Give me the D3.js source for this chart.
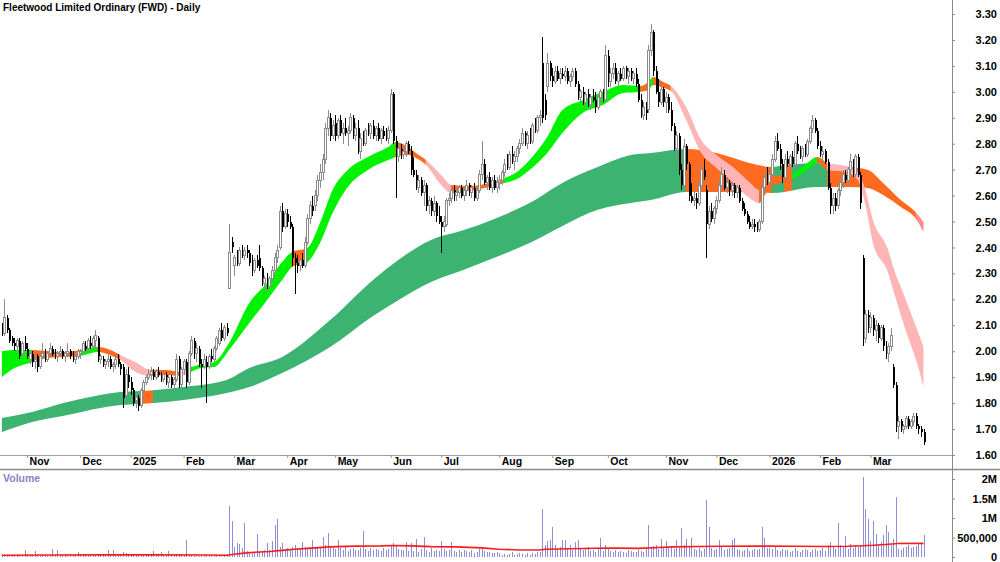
<!DOCTYPE html>
<html lang="en">
<head>
<meta charset="utf-8"/>
<title>Fleetwood Limited Ordinary (FWD) - Daily</title>
<script src="https://d3js.org/d3.v7.min.js"></script>
<style>
  html, body { margin: 0; padding: 0; background: #fff; }
  svg { display: block; font-family: "Liberation Sans", Arial, sans-serif; }
</style>
</head>
<body>
<svg id="chart" width="1000" height="562"></svg>
<script>
// ---- data: one row per trading day, [open, high, low, close] in cents + volume in thousands ----
const oct24 = [[209,211,206,207,60],[207,220,206,213,40],[213,214,207,208,35],[208,209,203,204,50],[205,206,202,203,45],[203,205,200,202,30],[202,205,200,204,40],[204,205,197,198,55],[199,204,198,203,60],[203,206,200,201,190]];
const nov24 = [[201,203,197,198,70],[197,200,195,199,50],[199,200,194,196,45],[196,198,193,197,160],[198,199,192,194,80],[194,199,193,198,40],[198,203,197,199,50],[199,201,196,197,60],[197,200,196,199,35],[199,203,198,201,50],[201,202,198,199,200],[199,201,197,198,45],[198,200,196,199,170],[199,202,198,200,60],[200,201,197,198,40],[198,200,196,199,55],[199,203,198,200,30],[200,201,197,198,45],[198,200,196,197,50],[197,199,195,198,60],[198,201,197,200,120]];
const dec24 = [[199,201,197,200,60],[200,204,199,203,45],[202,204,200,201,70],[201,205,200,204,50],[203,206,201,202,40],[202,206,201,205,30],[204,208,201,206,55],[205,206,196,197,60],[197,199,195,198,45],[197,198,194,195,50],[195,197,193,196,65],[196,199,194,197,190],[197,198,193,194,60],[194,196,192,195,190],[195,198,193,197,50],[197,199,194,195,40],[195,196,191,193,45],[194,195,178,182,120],[183,193,182,191,90],[191,194,186,188,60]];
const jan25 = [[188,190,183,185,50],[185,186,179,180,70],[181,184,178,182,45],[182,183,177,179,60],[179,186,178,185,40],[185,189,184,188,55],[188,191,187,190,60],[190,193,189,191,50],[191,194,189,192,40],[192,193,189,190,150],[190,193,189,192,45],[192,194,190,191,55],[191,192,188,189,130],[189,192,188,191,40],[191,192,187,188,60],[188,191,186,190,150],[190,191,186,187,55],[187,190,185,189,45],[189,199,188,197,80],[197,198,186,187,70],[187,194,186,193,50]];
const feb25 = [[193,197,191,196,60],[196,197,186,188,440],[188,200,187,199,50],[199,206,198,204,40],[204,205,197,199,30],[199,203,196,201,25],[201,202,194,195,35],[195,197,186,194,20],[194,199,193,197,30],[196,198,180,194,40],[194,199,193,198,25],[198,201,196,197,45],[197,202,196,201,30],[201,206,200,205,40],[203,209,202,208,35],[208,211,204,205,25],[205,210,204,209,60],[209,211,206,207,70],[224,249,224,238,1300],[242,244,238,240,920]];
const mar25 = [[233,237,229,236,250],[236,239,233,234,360],[234,240,233,239,340],[239,241,236,237,220],[237,240,235,239,870],[239,241,236,238,150],[238,239,233,234,120],[234,237,229,231,100],[231,236,230,235,120],[235,237,232,233,590],[236,241,231,232,130],[232,233,225,226,150],[226,229,222,228,180],[228,230,224,225,360],[225,229,224,228,180],[228,233,227,231,410],[231,238,230,236,830],[236,241,234,239,980],[240,256,239,254,250],[254,257,246,248,360],[248,255,247,253,200]];
const apr25 = [[253,255,248,250,220],[250,252,247,248,180],[248,249,233,236,260],[236,238,222,234,300],[234,237,230,233,230],[233,236,231,235,200],[235,238,232,233,390],[233,244,232,242,250],[242,253,241,251,240],[251,258,249,256,200],[256,260,252,254,440],[256,262,254,260,260],[260,268,258,266,230],[266,272,263,269,220],[269,276,266,274,510],[274,288,272,286,300],[286,293,283,290,610],[290,292,281,283,250],[283,289,282,287,220]];
const may25 = [[288,291,281,283,200],[283,290,282,289,440],[289,291,283,284,220],[284,288,280,286,180],[286,290,283,284,250],[284,287,279,285,160],[285,292,284,290,210],[290,291,282,283,230],[283,288,281,286,190],[286,289,276,277,170],[277,284,274,282,240],[282,285,279,280,660],[280,286,279,285,200],[285,288,283,284,150],[284,288,282,287,230],[287,289,282,283,180],[283,287,281,286,210],[286,288,281,282,170],[282,286,280,285,160],[285,287,282,283,220],[283,286,281,282,190],[282,287,280,285,200]];
const jun25 = [[285,301,284,299,280],[299,300,280,281,350],[281,283,259,275,300],[275,280,273,278,200],[278,280,274,276,170],[276,279,274,277,190],[277,281,275,280,390],[280,281,276,277,150],[277,279,268,270,370],[270,275,267,268,160],[268,270,262,263,460],[263,268,261,266,140],[266,267,260,261,200],[261,266,256,264,510],[264,265,254,256,170],[256,260,253,258,130],[258,259,252,254,220],[254,260,252,257,160],[257,258,250,252,180],[252,256,249,250,150]];
const jul25 = [[250,252,238,248,420],[248,252,246,250,200],[249,259,248,258,150],[258,261,256,259,180],[259,264,257,262,390],[262,264,258,260,160],[260,263,258,261,140],[261,264,259,263,190],[263,264,259,260,120],[260,263,258,262,170],[262,266,260,264,150],[264,265,260,261,130],[261,264,259,263,180],[263,265,258,259,110],[259,263,258,262,140],[262,270,261,268,200],[268,281,266,272,250],[272,274,264,265,160],[265,268,262,267,120],[267,269,262,263,140],[263,267,261,266,110],[266,268,262,263,100],[263,267,261,265,130]];
const aug25 = [[265,268,262,266,90],[266,270,264,269,60],[269,274,267,272,80],[272,276,270,271,50],[271,277,270,276,70],[276,279,272,273,120],[273,277,270,275,60],[275,279,273,278,80],[278,282,276,280,100],[280,286,279,284,70],[284,285,279,280,50],[280,285,278,283,90],[283,286,280,281,60],[281,288,280,287,110],[287,290,284,285,80],[285,291,284,290,120],[290,293,287,291,130],[311,321,288,290,1230],[297,299,289,291,300],[302,315,300,311,420],[311,312,304,306,430]];
const sep25 = [[306,309,302,304,760],[304,310,303,308,300],[308,310,304,305,200],[305,309,303,307,250],[307,309,305,306,440],[306,310,304,308,440],[308,309,303,304,220],[304,307,302,306,320],[306,309,304,308,180],[308,309,302,303,390],[303,304,297,298,440],[298,301,296,300,200],[300,302,295,296,170],[296,300,294,299,210],[299,301,294,295,260],[295,299,293,298,150],[298,301,296,297,190],[297,300,292,294,140],[294,299,293,298,230],[298,301,296,300,500],[300,301,296,297,160],[297,318,296,314,320]];
const oct25 = [[314,316,302,304,200],[304,309,302,307,150],[307,311,305,309,130],[309,311,303,304,180],[304,308,302,307,120],[307,309,304,305,160],[305,310,304,309,140],[309,310,305,306,110],[306,309,303,308,170],[308,309,304,305,150],[305,308,303,307,130],[307,309,302,303,120],[303,305,296,297,180],[297,299,290,291,160],[291,296,289,294,140],[294,296,289,292,220],[293,318,292,316,810],[316,326,314,323,250],[323,324,306,308,290],[308,310,299,300,320],[300,305,294,296,200],[296,303,295,301,460],[301,302,294,296,240]];
const nov25 = [[296,300,292,298,420],[298,299,292,293,240],[293,296,285,287,280],[287,288,277,278,200],[278,285,274,283,430],[283,284,268,270,220],[270,272,262,264,740],[264,282,262,279,300],[279,280,270,272,450],[272,273,258,260,260],[260,265,257,258,490],[258,262,256,259,200],[259,261,255,257,180],[257,266,256,264,230],[264,272,262,270,160],[270,274,266,267,200],[262,264,236,249,1450],[249,256,247,254,760],[254,257,250,251,220],[251,256,249,255,180]];
const dec25 = [[255,260,253,258,200],[258,266,257,264,440],[264,271,262,268,260],[268,270,262,263,180],[263,267,261,265,210],[265,266,260,262,230],[262,265,260,264,440],[264,265,259,261,490],[261,264,259,263,200],[263,264,257,258,170],[258,259,254,255,160],[255,257,252,253,190],[253,254,249,250,230],[250,252,247,248,150],[248,251,247,249,180],[249,251,246,248,200],[248,250,246,247,170],[247,251,246,250,210],[250,264,249,263,760],[263,269,261,267,490],[267,271,264,265,220]];
const jan26 = [[265,270,264,268,240],[268,276,267,274,200],[274,283,273,281,260],[281,284,277,278,180],[278,280,270,272,150],[272,274,265,267,210],[267,276,266,274,170],[274,277,271,272,190],[272,276,270,275,140],[275,277,271,272,160],[272,281,271,280,230],[280,283,276,277,150],[277,279,274,275,120],[275,279,273,278,170],[278,280,275,276,200],[276,282,275,281,180],[281,287,280,286,140],[286,291,284,289,190],[289,290,284,285,210],[285,286,278,279,160]];
const feb26 = [[279,281,275,276,180],[276,279,273,277,220],[277,278,272,273,160],[273,274,262,263,300],[263,265,253,256,380],[256,261,253,259,250],[259,261,254,256,200],[256,263,255,262,870],[262,266,260,265,300],[265,270,263,268,280],[268,270,265,266,530],[266,271,265,270,200],[270,276,268,273,330],[273,274,267,268,240],[268,276,267,275,300],[275,276,267,268,260],[268,269,255,257,320],[236,237,202,205,2050],[205,216,203,214,1240],[214,216,207,209,980]];
const mar26 = [[209,215,207,213,400],[213,214,206,208,920],[208,212,204,210,590],[210,211,203,205,300],[205,210,204,209,380],[209,210,200,202,560],[202,204,197,199,830],[199,203,196,202,650],[202,209,200,206,300],[194,195,186,187,470],[187,188,169,171,1540],[171,175,166,173,200],[173,174,169,170,180],[170,172,168,171,240],[171,175,170,174,260],[174,175,170,171,300],[171,174,170,173,230],[173,176,171,175,250],[175,176,170,171,280],[171,172,168,170,330],[170,171,167,169,340],[169,170,164,165,560]];

// ASX closures inside the range
const holidays = ["2024-12-25","2024-12-26","2025-01-01","2025-01-27","2025-04-18","2025-04-21","2025-04-25","2025-06-09","2025-12-25","2025-12-26","2026-01-01","2026-01-26"];
const monthLabels = ["Nov","Dec","2025","Feb","Mar","Apr","May","Jun","Jul","Aug","Sep","Oct","Nov","Dec","2026","Feb","Mar"];

// short-term ribbon: [bar index, upper, lower, colour of the stretch that follows]
const shortRibbon = [[0,2.00,1.90,"g"],[5,2.005,1.935,"g"],[12,2.005,1.958,"o"],[19,2.00,1.975,"o"],[25,1.997,1.978,"o"],[31,2.005,1.982,"g"],[38,2.016,1.997,"o"],[43,2.005,1.985,"o"],[47,1.985,1.966,"p"],[53,1.958,1.92,"p"],[59,1.928,1.905,"o"],[65,1.928,1.908,"o"],[71,1.92,1.905,"p"],[74,1.935,1.916,"g"],[79,1.95,1.935,"g"],[84,1.958,1.939,"g"],[90,2.032,2.005,"g"],[98,2.186,2.109,"g"],[105,2.263,2.197,"g"],[111,2.344,2.275,"g"],[115,2.383,2.325,"o"],[121,2.398,2.344,"g"],[126,2.494,2.417,"g"],[131,2.622,2.533,"g"],[137,2.699,2.633,"g"],[145,2.749,2.699,"g"],[153,2.787,2.737,"g"],[156,2.807,2.749,"o"],[161,2.787,2.756,"o"],[164,2.764,2.745,"o"],[168,2.737,2.718,"p"],[174,2.679,2.641,"p"],[178,2.641,2.61,"o"],[185,2.637,2.618,"o"],[193,2.649,2.633,"o"],[199,2.668,2.649,"g"],[204,2.691,2.664,"g"],[209,2.737,2.699,"g"],[216,2.826,2.764,"g"],[222,2.93,2.841,"g"],[230,2.968,2.918,"g"],[238,3.0,2.949,"g"],[246,3.026,2.995,"g"],[253,3.022,3.0,"o"],[256,3.038,3.007,"g"],[258,3.057,3.026,"o"],[262,3.038,3.015,"o"],[265,3.022,3.003,"p"],[271,2.941,2.891,"p"],[277,2.814,2.764,"p"],[283,2.756,2.706,"p"],[290,2.706,2.645,"p"],[296,2.652,2.591,"p"],[300,2.622,2.571,"o"],[302,2.66,2.60,"o"],[305,2.679,2.64,"o"],[307,2.676,2.645,"o"],[313,2.683,2.664,"g"],[318,2.718,2.691,"g"],[323,2.749,2.726,"o"],[327,2.726,2.699,"p"],[334,2.714,2.691,"p"],[339,2.691,2.66,"p"],[342,2.622,2.564,"p"],[345,2.506,2.417,"p"],[351,2.39,2.302,"p"],[353,2.325,2.236,"p"],[357,2.224,2.109,"p"],[364,2.043,1.901,"p"],[365,2.016,1.862,"p"]];

// long-term ribbon
const longRibbon = [[0,1.743,1.688,"G"],[12,1.766,1.727,"G"],[26,1.804,1.754,"G"],[39,1.831,1.781,"G"],[47,1.843,1.793,"G"],[55,1.847,1.797,"o"],[60,1.85,1.80,"G"],[72,1.862,1.812,"G"],[89,1.889,1.839,"G"],[98,1.935,1.862,"G"],[111,1.978,1.916,"G"],[130,2.12,2.016,"G"],[147,2.275,2.136,"G"],[157,2.352,2.197,"G"],[170,2.429,2.267,"G"],[183,2.467,2.314,"G"],[196,2.514,2.364,"G"],[209,2.571,2.417,"G"],[222,2.649,2.483,"G"],[236,2.71,2.545,"G"],[249,2.756,2.571,"G"],[257,2.764,2.583,"G"],[271,2.78,2.614,"o"],[283,2.764,2.614,"o"],[296,2.726,2.614,"o"],[305,2.71,2.61,"G"],[310,2.718,2.614,"o"],[313,2.72,2.62,"G"],[323,2.726,2.633,"G"],[327,2.72,2.633,"o"],[336,2.71,2.633,"o"],[343,2.699,2.629,"o"],[349,2.649,2.602,"o"],[356,2.583,2.556,"o"],[362,2.535,2.51,"r"],[365,2.498,2.46,"r"]];

// volume moving average (red line), [bar index, thousands]
const volumeAverage = [[0,45],[20,50],[40,55],[60,55],[80,50],[89,45],[92,70],[96,100],[100,120],[106,140],[111,170],[116,200],[121,220],[130,260],[140,280],[150,285],[155,295],[162,285],[170,265],[180,260],[190,235],[197,200],[205,180],[213,180],[215,200],[225,210],[235,225],[242,230],[252,220],[260,245],[266,260],[276,270],[286,275],[300,280],[315,275],[325,270],[335,275],[341,290],[345,300],[350,320],[355,345],[365,350]];

const priceTicks = [1.6,1.7,1.8,1.9,2.0,2.1,2.2,2.3,2.4,2.5,2.6,2.7,2.8,2.9,3.0,3.1,3.2,3.3];
const volumeTicks = [0, 500000, 1000000, 1500000, 2000000];
const volumeTickLabels = ["0","500,000","1M","1.5M","2M"];

const ribbonColours = { g: "#00f200", o: "#ff6a21", p: "#ffb5b5", G: "#3cb371", r: "#ff8a8a" };

// ---- layout ----
const W = 1000, H = 562, plotRight = 952;

const bars = [].concat(oct24, nov24, dec24, jan25, feb25, mar25, apr25, may25, jun25, jul25, aug25, sep25,
                       oct25, nov25, dec25, jan26, feb26, mar26);
const n = bars.length;

// trading calendar
const days = [];
for (let t = Date.UTC(2024, 9, 18); t <= Date.UTC(2026, 2, 31); t += 864e5) {
  const d = new Date(t), wd = d.getUTCDay();
  if (wd === 0 || wd === 6 || holidays.includes(d.toISOString().slice(0, 10))) continue;
  days.push(d);
}
const monthStarts = [];
days.forEach((d, i) => {
  if (i > 0 && d.getUTCMonth() !== days[i - 1].getUTCMonth()) monthStarts.push(i);
});

const x = d3.scaleLinear().domain([0, n - 1]).range([1.8, 923.5]);
const y = d3.scaleLinear().domain([1.6, 3.3]).range([455, 14]);
const yv = d3.scaleLinear().domain([0, 2000000]).range([557, 479]);

const svg = d3.select("#chart");
svg.append("rect").attr("width", W).attr("height", H).attr("fill", "#fff");
const defs = svg.append("defs");

svg.append("text")
  .attr("x", 3).attr("y", 11)
  .style("font-size", "10px").style("font-weight", "bold")
  .text("Fleetwood Limited Ordinary (FWD) - Daily");

// ribbons: one smooth band, painted in clipped stretches by colour
function drawRibbon(samples, key) {
  const area = d3.area().curve(d3.curveMonotoneX)
    .x(d => x(d[0])).y0(d => y(d[2])).y1(d => y(d[1]));
  const path = area(samples);
  const runs = [];
  samples.forEach((s, k) => {
    if (k === samples.length - 1) return;
    const last = runs[runs.length - 1];
    if (last && last.c === s[3]) last.end = samples[k + 1][0];
    else runs.push({ c: s[3], start: s[0], end: samples[k + 1][0] });
  });
  const g = svg.append("g");
  runs.forEach((r, j) => {
    const id = key + j;
    defs.append("clipPath").attr("id", id).append("rect")
      .attr("x", x(r.start) - 0.4).attr("y", 0)
      .attr("width", x(r.end) - x(r.start) + 0.8).attr("height", H);
    g.append("path").attr("d", path)
      .attr("fill", ribbonColours[r.c])
      .attr("clip-path", `url(#${id})`);
  });
}
drawRibbon(longRibbon, "longclip");
drawRibbon(shortRibbon, "shortclip");

// candles
const candles = svg.append("g").attr("shape-rendering", "crispEdges");
const cx = i => Math.round(x(i));
candles.selectAll("line")
  .data(bars)
  .join("line")
    .attr("x1", (d, i) => cx(i) + 0.5).attr("x2", (d, i) => cx(i) + 0.5)
    .attr("y1", d => y(d[1] / 100)).attr("y2", d => y(d[2] / 100))
    .attr("stroke", d => d[3] >= d[0] ? "#8c8c8c" : "#000");
candles.selectAll("rect")
  .data(bars)
  .join("rect")
    .attr("x", (d, i) => d[3] >= d[0] ? cx(i) - 0.5 : cx(i))
    .attr("width", 2)
    .attr("y", d => y(Math.max(d[0], d[3]) / 100))
    .attr("height", d => Math.max(1, y(Math.min(d[0], d[3]) / 100) - y(Math.max(d[0], d[3]) / 100)))
    .attr("fill", d => d[3] >= d[0] ? "#fff" : "#000")
    .attr("stroke", d => d[3] >= d[0] ? "#8c8c8c" : "none");

// volume
svg.append("g").attr("shape-rendering", "crispEdges")
  .selectAll("line")
  .data(bars)
  .join("line")
    .attr("x1", (d, i) => cx(i) + 0.5).attr("x2", (d, i) => cx(i) + 0.5)
    .attr("y1", yv(0)).attr("y2", d => yv(d[4] * 1000))
    .attr("stroke", "#8e8ed6");

svg.append("path")
  .datum(volumeAverage)
  .attr("fill", "none").attr("stroke", "#ff1a1a").attr("stroke-width", 1.6)
  .attr("d", d3.line().x(d => x(d[0])).y(d => yv(d[1] * 1000)));

svg.append("text")
  .attr("x", 3).attr("y", 482)
  .attr("fill", "#8585c4")
  .style("font-size", "10.5px").style("font-weight", "bold")
  .text("Volume");

// frame lines
svg.append("line").attr("x1", 0).attr("x2", plotRight).attr("y1", 455.5).attr("y2", 455.5)
  .attr("stroke", "#a0a0a0");
svg.append("line").attr("x1", 0).attr("x2", W).attr("y1", 469.5).attr("y2", 469.5)
  .attr("stroke", "#8a8a8a").attr("stroke-width", 1.5);
svg.append("line").attr("x1", plotRight + 0.5).attr("x2", plotRight + 0.5).attr("y1", 0).attr("y2", H)
  .attr("stroke", "#8a8a8a");

// month axis
const xAxis = svg.append("g")
  .attr("transform", "translate(0,455)")
  .call(d3.axisBottom(x).tickValues(monthStarts).tickSize(3)
        .tickFormat((d, i) => monthLabels[i]));
xAxis.select(".domain").remove();
xAxis.selectAll(".tick line").attr("stroke", "#999");
xAxis.selectAll("text")
  .attr("text-anchor", "start").attr("x", 2).attr("y", 3).attr("dy", "0.71em")
  .attr("fill", "#000")
  .style("font-size", "10.5px").style("font-weight", "bold")
  .style("font-family", "'Liberation Sans', Arial, sans-serif");

// price axis
const yAxis = svg.append("g")
  .attr("transform", `translate(${plotRight},0)`)
  .call(d3.axisRight(y).tickValues(priceTicks).tickFormat(d3.format(".2f")).tickSize(3));
yAxis.select(".domain").remove();
yAxis.selectAll(".tick line").attr("stroke", "#888");
yAxis.selectAll("text")
  .attr("x", 45).attr("text-anchor", "end").attr("fill", "#000")
  .style("font-size", "11px").style("font-weight", "bold")
  .style("font-family", "'Liberation Sans', Arial, sans-serif");

// volume axis
const vAxis = svg.append("g")
  .attr("transform", `translate(${plotRight},0)`)
  .call(d3.axisRight(yv).tickValues(volumeTicks).tickFormat((d, i) => volumeTickLabels[i]).tickSize(3));
vAxis.select(".domain").remove();
vAxis.selectAll(".tick line").attr("stroke", "#888");
vAxis.selectAll("text")
  .attr("x", 45).attr("text-anchor", "end").attr("fill", "#000")
  .style("font-size", "11px").style("font-weight", "bold")
  .style("font-family", "'Liberation Sans', Arial, sans-serif");
</script>
</body>
</html>
